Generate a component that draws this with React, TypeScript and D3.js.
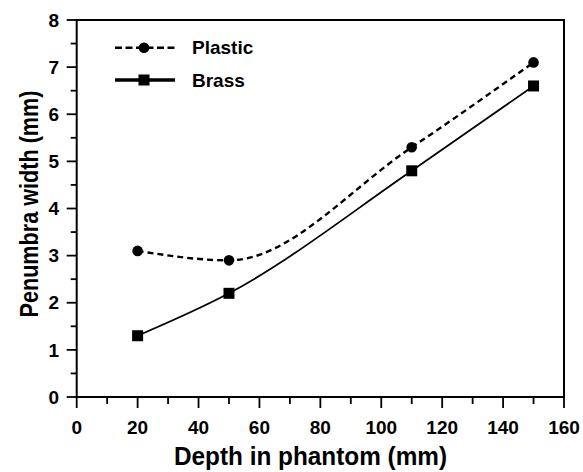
import React from "react";
import * as d3 from "d3";

const depth = [20, 50, 110, 150];
const plastic = [3.1, 2.9, 5.3, 7.1];
const brass = [1.3, 2.2, 4.8, 6.6];
const xMajor = [0, 20, 40, 60, 80, 100, 120, 140, 160];
const xMinor = [10, 30, 50, 70, 90, 110, 130, 150];
const yMajor = [0, 1, 2, 3, 4, 5, 6, 7, 8];
const yMinor = [0.5, 1.5, 2.5, 3.5, 4.5, 5.5, 6.5, 7.5];
const seriesNames = ["Plastic", "Brass"];

const W = 583, H = 472;
const L = 76.7, R = 564, T = 20, B = 397;
const FONT = "'Liberation Sans', Arial, Helvetica, sans-serif";

export default function App() {
  const x = d3.scaleLinear().domain([0, 160]).range([L, R]);
  const y = d3.scaleLinear().domain([0, 8]).range([B, T]);
  const line = d3
    .line<[number, number]>()
    .x((d) => x(d[0]))
    .y((d) => y(d[1]))
    .curve(d3.curveMonotoneX);
  const pData = depth.map((d, i) => [d, plastic[i]] as [number, number]);
  const bData = depth.map((d, i) => [d, brass[i]] as [number, number]);

  return (
    <svg width={W} height={H} style={{ position: "absolute", left: 0, top: 0, background: "#fff" }} fontFamily={FONT}>
      <rect x={0} y={0} width={W} height={H} fill="#fff" />
      {/* frame */}
      <rect x={L} y={T} width={R - L} height={B - T} fill="none" stroke="#000" strokeWidth={2} />
      {/* x ticks */}
      {xMajor.map((v) => (
        <g key={"xm" + v}>
          <line x1={x(v)} x2={x(v)} y1={B} y2={B + 11} stroke="#000" strokeWidth={1.8} />
          <text x={x(v)} y={434} textAnchor="middle" fontSize={19} fontWeight="bold">{v}</text>
        </g>
      ))}
      {xMinor.map((v) => (
        <line key={"xn" + v} x1={x(v)} x2={x(v)} y1={B} y2={B + 7} stroke="#000" strokeWidth={1.8} />
      ))}
      {/* y ticks */}
      {yMajor.map((v) => (
        <g key={"ym" + v}>
          <line x1={L - 10} x2={L} y1={y(v)} y2={y(v)} stroke="#000" strokeWidth={1.8} />
          <text x={59} y={y(v) + 6.7} textAnchor="end" fontSize={19} fontWeight="bold">{v}</text>
        </g>
      ))}
      {yMinor.map((v) => (
        <line key={"yn" + v} x1={L - 6} x2={L} y1={y(v)} y2={y(v)} stroke="#000" strokeWidth={1.8} />
      ))}
      {/* titles */}
      <text x={310.5} y={465} textAnchor="middle" fontSize={25} fontWeight="bold" textLength={273} lengthAdjust="spacingAndGlyphs">
        Depth in phantom (mm)
      </text>
      <text transform={`translate(38,204) rotate(-90)`} textAnchor="middle" fontSize={26} fontWeight="bold" textLength={227} lengthAdjust="spacingAndGlyphs">
        Penumbra width (mm)
      </text>
      {/* series */}
      <path d={line(pData) || ""} fill="none" stroke="#000" strokeWidth={2.4} strokeDasharray="6,4" />
      <path d={line(bData) || ""} fill="none" stroke="#000" strokeWidth={1.8} />
      {pData.map((d, i) => (
        <circle key={"pc" + i} cx={x(d[0])} cy={y(d[1])} r={5.3} fill="#000" />
      ))}
      {bData.map((d, i) => (
        <rect key={"bs" + i} x={x(d[0]) - 5.5} y={y(d[1]) - 5.5} width={11} height={11} fill="#000" />
      ))}
      {/* legend */}
      <line x1={115} x2={175} y1={47.7} y2={47.7} stroke="#000" strokeWidth={2.6} strokeDasharray="7,3.5" />
      <circle cx={144} cy={47.7} r={5.3} fill="#000" />
      <text x={192} y={54} fontSize={19} fontWeight="bold">{seriesNames[0]}</text>
      <line x1={115} x2={175} y1={80} y2={80} stroke="#000" strokeWidth={3.5} />
      <rect x={144 - 5.5} y={80 - 5.5} width={11} height={11} fill="#000" />
      <text x={192} y={86.7} fontSize={19} fontWeight="bold">{seriesNames[1]}</text>
    </svg>
  );
}
